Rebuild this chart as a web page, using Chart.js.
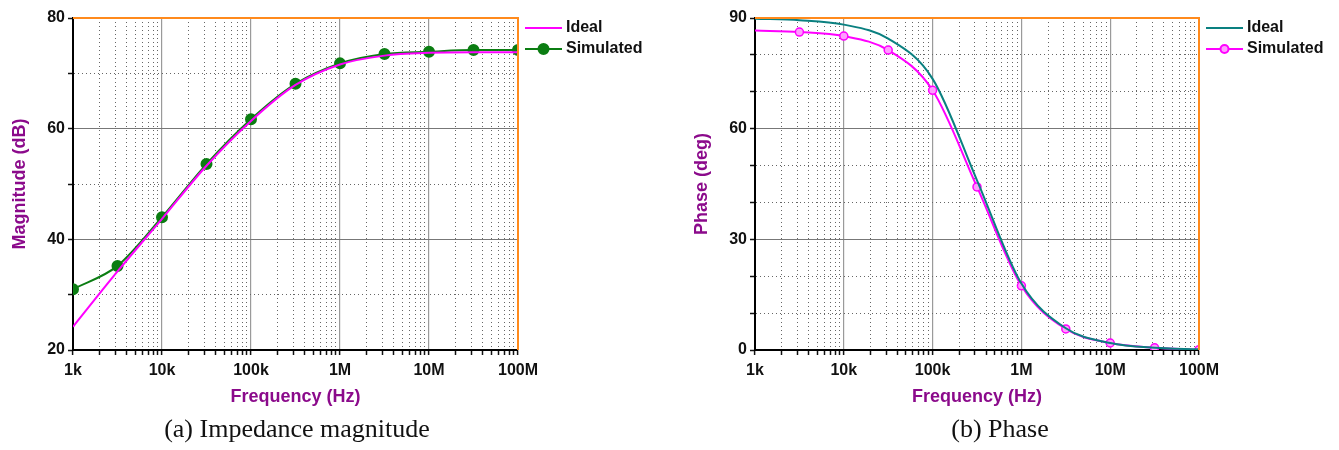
<!DOCTYPE html>
<html>
<head>
<meta charset="utf-8">
<script src="https://cdn.jsdelivr.net/npm/chart.js@4.4.1/dist/chart.umd.min.js"></script>
<style>
  body { margin: 0; background: #fff; width: 1339px; height: 450px; position: relative; overflow: hidden; }
  .box { position: absolute; top: 0; height: 415px; }
  .cap { position: absolute; top: 414px; font: 26px "Liberation Serif", "Times New Roman", serif; color: #111; text-align: center; }
</style>
</head>
<body>
<div class="box" style="left:0;width:660px"><canvas id="magChart"></canvas></div>
<div class="box" style="left:660px;width:679px"><canvas id="phaseChart"></canvas></div>
<div class="cap" style="left:0;width:594px">(a) Impedance magnitude</div>
<div class="cap" style="left:800px;width:400px">(b) Phase</div>
<script>
// frequency points (Hz), half-decade steps
var freqs = [1e3, 3.162e3, 1e4, 3.162e4, 1e5, 3.162e5, 1e6, 3.162e6, 1e7, 3.162e7, 1e8];
var magIdeal = [24.2, 34.2, 43.7, 53.3, 61.4, 67.9, 71.6, 73.2, 73.7, 73.8, 73.8];
var magSim = [31.0, 35.2, 44.0, 53.6, 61.7, 68.1, 71.8, 73.5, 73.9, 74.2, 74.2];
var phIdeal = [89.8, 89.4, 88.2, 84.4, 73.5, 46.0, 18.0, 5.9, 1.9, 0.6, 0.2];
var phSim = [86.6, 86.2, 85.1, 81.3, 70.4, 44.2, 17.4, 5.7, 1.9, 0.6, 0.1];

var decades = [1e3, 1e4, 1e5, 1e6, 1e7, 1e8];
var xTickLabels = ["1k", "10k", "100k", "1M", "10M", "100M"];
var minorSteps = [1, 2, 3, 4, 5, 6, 7, 8, 9];

var tickFont = { family: "'Liberation Sans', Arial", size: 16, weight: "bold" };
var titleFont = { family: "'Liberation Sans', Arial", size: 18, weight: "bold" };
var purple = "#8b0a8b";
var orange = "#ff8a1c";

function pts(ys) {
  return freqs.map(function (f, i) { return { x: f, y: ys[i] }; });
}

function decadeIndex(v) {
  for (var i = 0; i < decades.length; i++) {
    if (Math.abs(v - decades[i]) < decades[i] * 1e-6) return i;
  }
  return -1;
}

function xScale(padLeft) {
  return {
    type: "logarithmic",
    min: 1e3,
    max: 1e8,
    afterBuildTicks: function (scale) {
      var t = [];
      decades.forEach(function (d, i) {
        if (i === decades.length - 1) { t.push({ value: d }); return; }
        minorSteps.forEach(function (m) { t.push({ value: d * m }); });
      });
      scale.ticks = t;
    },
    afterFit: function (scale) { scale.height = 62; },
    ticks: {
      autoSkip: false, maxRotation: 0, padding: 6, color: "#111", font: tickFont,
      callback: function (v) {
        var i = decadeIndex(v);
        return i >= 0 ? xTickLabels[i] : "";
      }
    },
    grid: {
      tickLength: 5,
      tickColor: "#111",
      tickWidth: 1.5,
      color: function (c) {
        if (!c.tick) return "#000";
        var i = decadeIndex(c.tick.value);
        if (i === 0 || i === decades.length - 1) return "rgba(0,0,0,0)";
        return i >= 0 ? "#9a9a9a" : "#666";
      },
      lineWidth: function (c) { return c.tick && decadeIndex(c.tick.value) >= 0 ? 1.2 : 1; }
    },
    border: {
      color: "#000", width: 2,
      dash: function (c) {
        if (!c.tick) return [];
        return decadeIndex(c.tick.value) >= 0 ? [] : [1, 3];
      }
    },
    title: { display: true, text: "Frequency (Hz)", color: purple, font: titleFont, padding: { top: 4, bottom: 4 } }
  };
}

function yScale(min, max, major, title, width) {
  return {
    min: min,
    max: max,
    afterFit: function (scale) { scale.width = width; },
    ticks: {
      stepSize: 10, padding: 3, color: "#111", font: tickFont,
      callback: function (v) { return v % major === 0 ? v : ""; }
    },
    grid: {
      tickLength: 5,
      tickColor: "#111",
      tickWidth: 1.5,
      color: function (c) {
        if (!c.tick) return "#000";
        var v = c.tick.value;
        if (v === min || v === max) return "rgba(0,0,0,0)";
        return v % major === 0 ? "#777" : "#666";
      }
    },
    border: {
      color: "#000", width: 2,
      dash: function (c) {
        if (!c.tick) return [];
        return c.tick.value % major === 0 ? [] : [1, 3];
      }
    },
    title: { display: true, text: title, color: purple, font: titleFont, padding: { top: 4, bottom: 4 } }
  };
}

var framePlugin = {
  id: "frame",
  afterDraw: function (chart) {
    var ctx = chart.ctx, a = chart.chartArea;
    ctx.save();
    ctx.strokeStyle = orange;
    ctx.lineWidth = 2;
    ctx.beginPath();
    ctx.moveTo(a.left, a.top);
    ctx.lineTo(a.right, a.top);
    ctx.lineTo(a.right, a.bottom);
    ctx.stroke();

    // legend to the right of the plot
    var x0 = a.right + 7, len = 37;
    ctx.font = "bold 16px 'Liberation Sans', Arial";
    ctx.textBaseline = "middle";
    chart.data.datasets.forEach(function (ds, i) {
      var y = a.top + 10 + i * 21;
      ctx.strokeStyle = ds.borderColor;
      ctx.lineWidth = 2;
      ctx.beginPath();
      ctx.moveTo(x0, y);
      ctx.lineTo(x0 + len, y);
      ctx.stroke();
      if (ds.legendMarker) {
        ctx.fillStyle = ds.pointBackgroundColor;
        ctx.strokeStyle = ds.pointBorderColor;
        ctx.beginPath();
        ctx.arc(x0 + len / 2, y, ds.legendMarker, 0, Math.PI * 2);
        ctx.fill();
        ctx.stroke();
      }
      ctx.fillStyle = "#111";
      ctx.fillText(ds.label, x0 + len + 4, y);
    });
    ctx.restore();
  }
};

Chart.defaults.animation = false;

new Chart("magChart", {
  type: "line",
  data: {
    datasets: [
      {
        label: "Ideal",
        data: pts(magIdeal),
        borderColor: "#ff00ff",
        borderWidth: 2,
        pointRadius: 0,
        cubicInterpolationMode: "monotone"
      },
      {
        label: "Simulated",
        data: pts(magSim),
        borderColor: "#0b7d12",
        borderWidth: 2,
        pointRadius: 5,
        pointBackgroundColor: "#0b7d12",
        pointBorderColor: "#0b7d12",
        legendMarker: 5,
        cubicInterpolationMode: "monotone"
      }
    ]
  },
  options: {
    responsive: true,
    maintainAspectRatio: false,
    layout: { padding: { left: 5, top: 18, right: 142, bottom: 3 } },
    plugins: { legend: { display: false }, tooltip: { enabled: false } },
    scales: {
      x: xScale(5),
      y: yScale(20, 80, 20, "Magnitude (dB)", 68)
    }
  },
  plugins: [framePlugin]
});

new Chart("phaseChart", {
  type: "line",
  data: {
    datasets: [
      {
        label: "Ideal",
        data: pts(phIdeal),
        borderColor: "#0a8080",
        borderWidth: 2,
        pointRadius: 0,
        cubicInterpolationMode: "monotone"
      },
      {
        label: "Simulated",
        data: pts(phSim),
        borderColor: "#ff00ff",
        borderWidth: 2,
        pointRadius: [0, 4, 4, 4, 4, 4, 4, 4, 4, 4, 4],
        pointBorderWidth: 1.5,
        pointBackgroundColor: "#ff9cff",
        pointBorderColor: "#ff00ff",
        legendMarker: 4,
        cubicInterpolationMode: "monotone"
      }
    ]
  },
  options: {
    responsive: true,
    maintainAspectRatio: false,
    layout: { padding: { left: 27, top: 18, right: 140, bottom: 3 } },
    plugins: { legend: { display: false }, tooltip: { enabled: false } },
    scales: {
      x: xScale(27),
      y: yScale(0, 90, 30, "Phase (deg)", 68)
    }
  },
  plugins: [framePlugin]
});
</script>
</body>
</html>
